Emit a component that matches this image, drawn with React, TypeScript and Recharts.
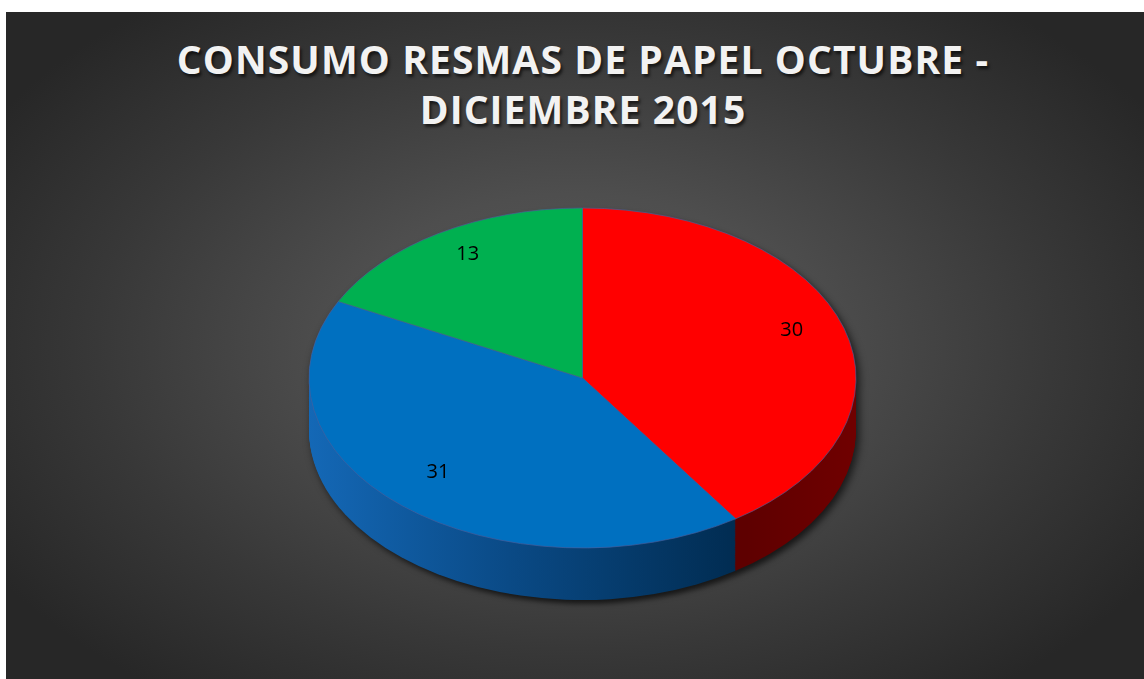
import { PieChart, Pie, Cell } from "recharts";

// months of the quarter (no legend shown in the chart)
const categories = ["Octubre", "Noviembre", "Diciembre"];
const values = [30, 31, 13];
const topColors = ["#ff0000", "#0070c0", "#00b050"];
const sideColors = ["url(#redSide)", "url(#blueSide)", "#005a28"];

const titleLines = ["CONSUMO RESMAS DE PAPEL OCTUBRE -", "DICIEMBRE 2015"];

const data = categories.map((name, i) => ({ name, value: values[i] }));

const W = 1138;
const H = 667;
const SQUASH = 0.6216; // ellipse ry / rx
const SVG_H = Math.ceil(H / SQUASH);
const CX = 576.5;
const CY = 366 / SQUASH;
const R = 273.5;
const DEPTH = 52 / SQUASH;
const LAYERS = 46;
const RAD = Math.PI / 180;

const offsets = Array.from({ length: LAYERS }, (_, i) => (DEPTH * (LAYERS - i)) / LAYERS);

function renderLabel(props: any) {
  const { cx, cy, midAngle, outerRadius, value } = props;
  const r = outerRadius * 0.8;
  const x = cx + r * Math.cos(-midAngle * RAD);
  // nudge up a bit, the reference has some perspective
  const y = cy + r * Math.sin(-midAngle * RAD) - 10 / SQUASH;
  return (
    <text
      x={x}
      y={y}
      transform={`translate(${x} ${y}) scale(1 ${1 / SQUASH}) translate(${-x} ${-y})`}
      textAnchor="middle"
      dominantBaseline="central"
      fill="#000"
      fontSize={20}
      fontFamily="'Open Sans', 'Liberation Sans', sans-serif"
    >
      {value}
    </text>
  );
}

export default function App() {
  return (
    <div
      style={{
        position: "absolute",
        left: 6,
        top: 12,
        width: W,
        height: H,
        overflow: "hidden",
        background:
          "radial-gradient(ellipse 60% 65% at 50% 50%, #5a5a5a 0%, #4e4e4e 35%, #383838 70%, #272727 100%)",
      }}
    >
      <div
        style={{
          position: "absolute",
          left: 0,
          top: 0,
          width: W,
          height: SVG_H,
          transform: `scaleY(${SQUASH})`,
          transformOrigin: "0 0",
          filter: "drop-shadow(3px 6px 4px rgba(0,0,0,0.65))",
        }}
      >
        <PieChart width={W} height={SVG_H} margin={{ top: 0, right: 0, bottom: 0, left: 0 }}>
          <defs>
            <linearGradient id="blueSide" x1={CX - R} y1={0} x2={CX + R * 0.62} y2={0} gradientUnits="userSpaceOnUse">
              <stop offset="0%" stopColor="#1468b6" />
              <stop offset="45%" stopColor="#0a4a86" />
              <stop offset="100%" stopColor="#002a4e" />
            </linearGradient>
            <linearGradient id="redSide" x1={CX + R * 0.6} y1={0} x2={CX + R} y2={0} gradientUnits="userSpaceOnUse">
              <stop offset="0%" stopColor="#5e0000" />
              <stop offset="100%" stopColor="#700000" />
            </linearGradient>
          </defs>
          {offsets.map((off) => (
            <Pie
              key={`side-${off}`}
              data={data}
              dataKey="value"
              nameKey="name"
              cx={CX}
              cy={CY + off}
              outerRadius={R}
              startAngle={90}
              endAngle={-270}
              stroke="none"
              isAnimationActive={false}
            >
              {data.map((_, i) => (
                <Cell key={`s-${i}`} fill={sideColors[i]} />
              ))}
            </Pie>
          ))}
          <Pie
            data={data}
            dataKey="value"
            nameKey="name"
            cx={CX}
            cy={CY}
            outerRadius={R}
            startAngle={90}
            endAngle={-270}
            stroke="#4a5f9c"
            strokeWidth={0.8}
            label={renderLabel}
            labelLine={false}
            isAnimationActive={false}
          >
            {data.map((_, i) => (
              <Cell key={`t-${i}`} fill={topColors[i]} />
            ))}
          </Pie>
        </PieChart>
      </div>
      <div
        style={{
          position: "absolute",
          left: 8,
          top: 22,
          width: W,
          textAlign: "center",
          color: "#f2f2f2",
          fontFamily: "'Open Sans', sans-serif",
          fontWeight: 700,
          fontSize: 39,
          lineHeight: "50px",
          letterSpacing: 1.1,
          textShadow: "2px 3px 3px rgba(0,0,0,0.6)",
        }}
      >
        {titleLines.map((t) => (
          <div key={t}>{t}</div>
        ))}
      </div>
    </div>
  );
}
